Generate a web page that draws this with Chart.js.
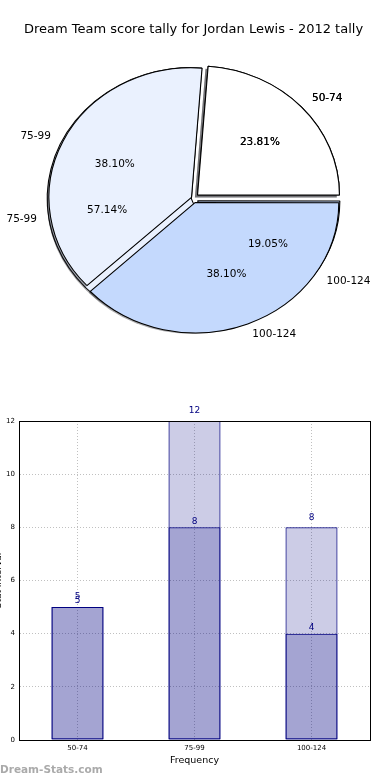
<!DOCTYPE html>
<html>
<head>
<meta charset="utf-8">
<script src="https://cdn.jsdelivr.net/npm/chart.js@4.4.1/dist/chart.umd.min.js"></script>
<style>
  html, body { margin: 0; padding: 0; background: #fff; width: 390px; height: 780px; overflow: hidden; position: relative; }
  canvas { position: absolute; }
  #pieUnder, #pieOver { left: 0; top: 0; }
  #bars { left: -20px; top: 400px; }
</style>
</head>
<body>
<canvas id="pieUnder" width="390" height="390"></canvas>
<canvas id="pieOver" width="390" height="390"></canvas>
<canvas id="bars" width="410" height="380"></canvas>
<script>
// data
const categories = ['50-74', '75-99', '100-124'];
const firstPie = [5, 8, 8];
const secondPie = [5, 12, 4];
const barTotals = [5, 12, 8];
const barInner = [5, 8, 4];
const yTicks = [0, 2, 4, 6, 8, 10, 12];

const titleText = 'Dream Team score tally for Jordan Lewis - 2012 tally';
const sliceColors = ['#ffffff', '#eaf1fe', '#c4d9fd'];
const explode = [20, 8, 18];   // chart.js moves a slice by offset/4
const SX = 1.1;                // the original pie is a bit wider than tall
const font = 'DejaVu Sans';

// matplotlib-ish squash + drop shadow under the slices
const squash = {
  id: 'squash',
  beforeDatasetsDraw(chart) {
    const ctx = chart.ctx;
    const arcs = chart.getDatasetMeta(0).data;
    const c = arcs[0];
    ctx.save();
    ctx.translate(c.x, c.y);
    ctx.scale(SX, 1);
    ctx.translate(-c.x, -c.y);
    arcs.forEach(a => {
      const mid = (a.startAngle + a.endAngle) / 2;
      const off = (a.options.offset || 0) / 4;
      const cx = a.x + Math.cos(mid) * off - 2.4;
      const cy = a.y + Math.sin(mid) * off + 2.6;
      ctx.beginPath();
      ctx.moveTo(cx, cy);
      ctx.arc(cx, cy, a.outerRadius, a.startAngle, a.endAngle);
      ctx.closePath();
      ctx.fillStyle = 'rgba(30,30,35,0.38)';
      ctx.fill();
    });
  },
  afterDatasetsDraw(chart) {
    chart.ctx.restore();
  }
};

let under;

// labels of both pies, drawn on the top canvas so nothing covers them
const pieText = {
  id: 'pieText',
  afterDraw(chart) {
    const ctx = chart.ctx;
    ctx.save();
    ctx.font = '10.5px "' + font + '"';
    ctx.fillStyle = '#000';
    ctx.textBaseline = 'middle';
    [chart, under].forEach(ch => {
      const vals = ch.data.datasets[0].data;
      const total = vals.reduce((s, v) => s + v, 0);
      ch.getDatasetMeta(0).data.forEach((a, i) => {
        const mid = (a.startAngle + a.endAngle) / 2;
        const off = (a.options.offset || 0) / 4;
        const R = a.outerRadius;
        const cos = Math.cos(mid), sin = Math.sin(mid);
        let d = off + 1.1 * R;
        ctx.textAlign = cos >= 0 ? 'left' : 'right';
        ctx.fillText(ch.data.labels[i], a.x + SX * d * cos, a.y + d * sin);
        d = off + 0.6 * R;
        ctx.textAlign = 'center';
        ctx.fillText((vals[i] / total * 100).toFixed(2) + '%', a.x + SX * d * cos, a.y + d * sin);
      });
    });
    ctx.restore();
  }
};

function pieConfig(values, titleColor, extra) {
  return {
    type: 'pie',
    data: {
      labels: categories.slice().reverse(),
      datasets: [{
        data: values.slice().reverse(),
        backgroundColor: sliceColors.slice().reverse(),
        borderColor: '#000',
        borderWidth: 1,
        offset: explode.slice().reverse(),
        clip: false
      }]
    },
    options: {
      responsive: false,
      animation: false,
      rotation: 90,
      radius: 129,
      layout: { padding: { left: 0, right: 3, top: 0, bottom: 31 } },
      plugins: {
        legend: { display: false },
        tooltip: { enabled: false },
        title: {
          display: true,
          text: titleText,
          color: titleColor,
          font: { family: font, size: 13, weight: 'normal' },
          padding: { top: 22, bottom: 0 }
        }
      }
    },
    plugins: [squash].concat(extra)
  };
}

under = new Chart(document.getElementById('pieUnder'), pieConfig(secondPie, 'rgba(0,0,0,0)', []));
new Chart(document.getElementById('pieOver'), pieConfig(firstPie, '#000', [pieText]));

// bar chart
const frame = {
  id: 'frame',
  afterDraw(chart) {
    const { ctx, chartArea: a } = chart;
    ctx.save();
    ctx.strokeStyle = '#000';
    ctx.lineWidth = 1;
    ctx.strokeRect(Math.round(a.left) + 0.5, Math.round(a.top) + 0.5, Math.round(a.right - a.left), Math.round(a.bottom - a.top));
    ctx.font = 'bold 10.5px "' + font + '"';
    ctx.fillStyle = '#aaa';
    ctx.textBaseline = 'middle';
    ctx.textAlign = 'left';
    ctx.fillText('Dream-Stats.com', 20, 370);
    ctx.restore();
  }
};

const barText = {
  id: 'barText',
  afterDatasetsDraw(chart) {
    const ctx = chart.ctx;
    ctx.save();
    ctx.font = '9px "' + font + '"';
    ctx.fillStyle = '#000080';
    ctx.textAlign = 'center';
    ctx.textBaseline = 'middle';
    chart.data.datasets.forEach((ds, di) => {
      chart.getDatasetMeta(di).data.forEach((bar, i) => {
        ctx.fillText(String(ds.data[i]), bar.x, bar.y - (di === 0 ? 10 : 6));
      });
    });
    ctx.restore();
  }
};

const barStyle = {
  backgroundColor: 'rgba(0,0,128,0.2)',
  borderColor: '#000080',
  borderWidth: 1,
  borderSkipped: false,
  barPercentage: 0.445,
  categoryPercentage: 1
};

new Chart(document.getElementById('bars'), {
  type: 'bar',
  data: {
    labels: categories,
    datasets: [
      Object.assign({ data: barTotals }, barStyle),
      Object.assign({ data: barInner }, barStyle)
    ]
  },
  options: {
    responsive: false,
    animation: false,
    layout: { padding: { top: 21, right: 20, left: 0, bottom: 0 } },
    plugins: { legend: { display: false }, tooltip: { enabled: false } },
    scales: {
      x: {
        stacked: true,
        grid: { offset: false, color: '#c0c0c0', drawTicks: false },
        border: { display: true, color: '#000', dash: [1, 2] },
        ticks: { color: '#000', font: { family: font, size: 7 }, padding: 4 },
        title: { display: true, text: 'Frequency', color: '#000', font: { family: font, size: 9.5 }, padding: { top: 0, bottom: 14 } },
        afterFit(s) { s.height = 40; }
      },
      y: {
        stacked: false,
        min: 0,
        max: 12,
        afterBuildTicks(s) { s.ticks = yTicks.map(v => ({ value: v })); },
        grid: { color: '#c0c0c0', drawTicks: false },
        border: { display: true, color: '#000', dash: [1, 2] },
        ticks: { color: '#000', font: { family: font, size: 7 }, padding: 4 },
        title: { display: true, text: 'Stat Interval', color: '#000', font: { family: font, size: 9 }, padding: { top: 13, bottom: 0 } },
        afterFit(s) { s.width = 39; }
      }
    }
  },
  plugins: [frame, barText]
});
</script>
</body>
</html>
